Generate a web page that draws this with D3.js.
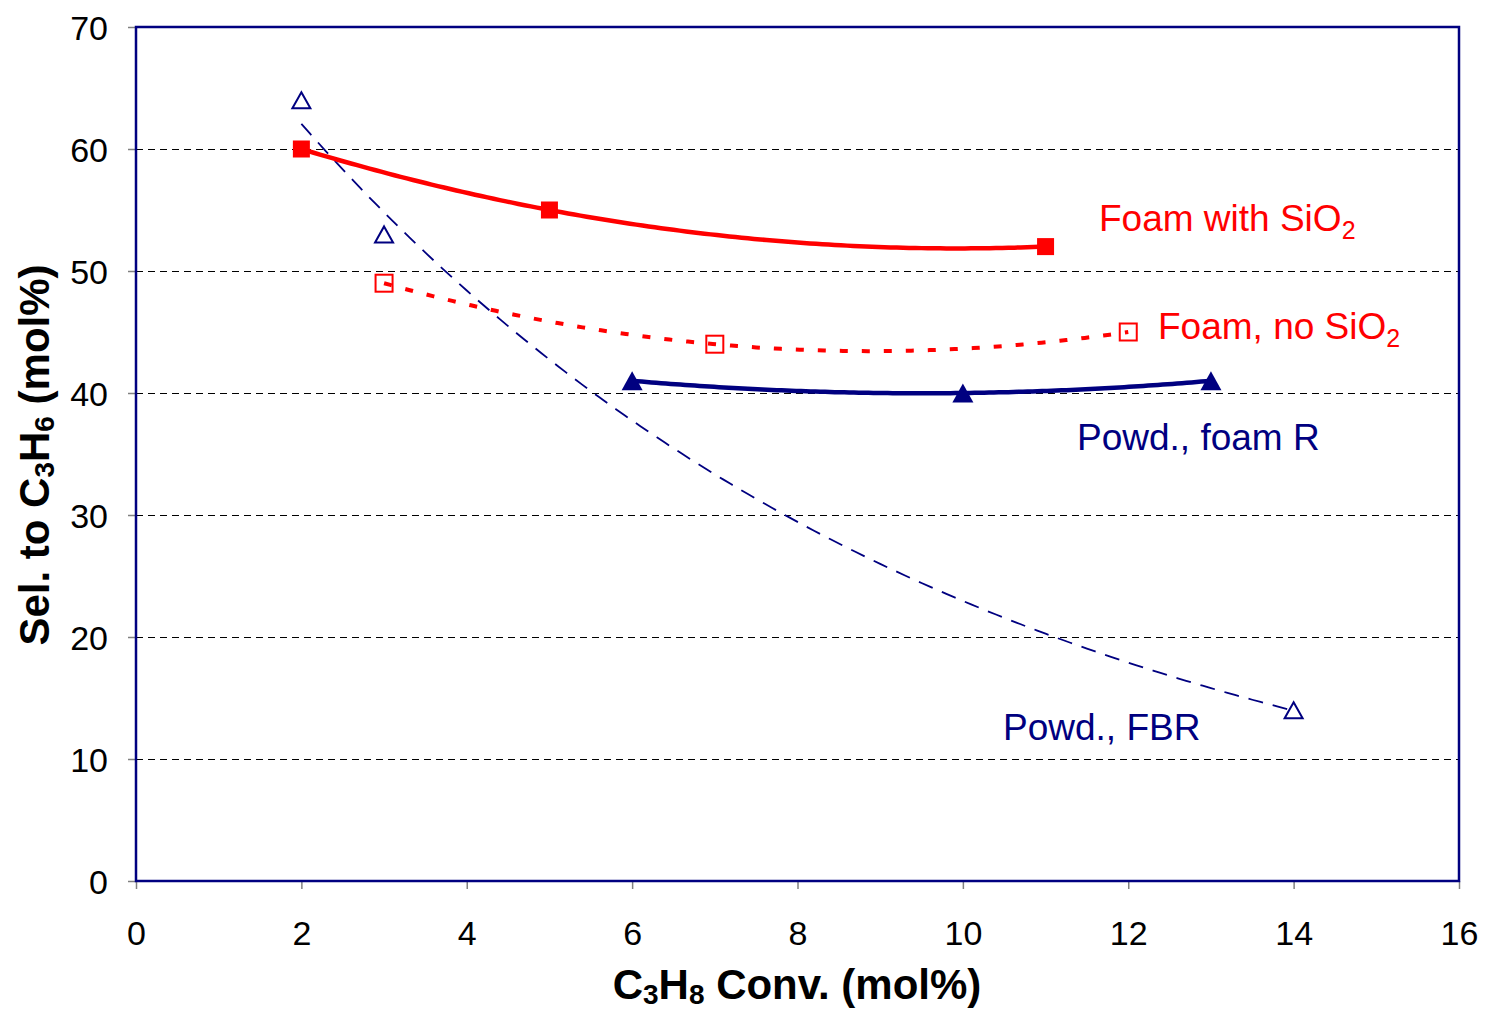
<!DOCTYPE html>
<html>
<head>
<meta charset="utf-8">
<script src="https://cdn.jsdelivr.net/npm/d3@7"></script>
<style>
  html, body { margin: 0; padding: 0; background: #fff; }
  svg { display: block; font-family: "Liberation Sans", Arial, sans-serif; }
</style>
</head>
<body>
<svg id="chart" width="1485" height="1010"></svg>
<script>
// Measured points: conversion (x, mol%) vs selectivity (y, mol%)
const foamSiO2X = [2, 5, 11];
const foamSiO2Y = [60, 55, 52];
const foamNoSiO2X = [3, 7, 12];
const foamNoSiO2Y = [49, 44, 45];
const powdFoamRX = [6, 10, 13];
const powdFoamRY = [41, 40, 41];
const powdFbrX = [2, 3, 14];
const powdFbrY = [64, 53, 14];

const xTicks = [0, 2, 4, 6, 8, 10, 12, 14, 16];
const yTicks = [0, 10, 20, 30, 40, 50, 60, 70];
const gridValues = [10, 20, 30, 40, 50, 60];

const red = "#ff0000";
const navy = "#000080";

const svg = d3.select("#chart");
const plotLeft = 136, plotRight = 1459, plotTop = 27, plotBottom = 881;

const x = d3.scaleLinear().domain([0, 16]).range([plotLeft, plotRight]);
const y = d3.scaleLinear().domain([0, 70]).range([plotBottom, plotTop]);

// gridlines
svg.append("g").selectAll("line").data(gridValues).join("line")
  .attr("x1", plotLeft).attr("x2", plotRight)
  .attr("y1", d => Math.round(y(d)) + 0.5).attr("y2", d => Math.round(y(d)) + 0.5)
  .attr("stroke", "#000").attr("stroke-width", 1)
  .attr("stroke-dasharray", "7,5");

// axes (ticks outward, grey)
const xAxis = svg.append("g").attr("transform", `translate(0,${plotBottom})`)
  .call(d3.axisBottom(x).tickValues(xTicks).tickSize(8).tickPadding(32).tickFormat(d3.format("d")));
const yAxis = svg.append("g").attr("transform", `translate(${plotLeft},0)`)
  .call(d3.axisLeft(y).tickValues(yTicks).tickSize(8).tickPadding(20).tickFormat(d3.format("d")));
[xAxis, yAxis].forEach(g => {
  g.select(".domain").remove();
  g.selectAll(".tick line").attr("stroke", "#808080").attr("stroke-width", 1.5);
  g.selectAll(".tick text").attr("font-size", 34).attr("fill", "#000")
    .attr("font-family", "'Liberation Sans', Arial, sans-serif");
});
xAxis.selectAll(".tick text").attr("dy", "0.72em");
yAxis.selectAll(".tick text").attr("dy", "0.36em");

// plot frame
svg.append("rect").attr("x", plotLeft).attr("y", plotTop)
  .attr("width", plotRight - plotLeft).attr("height", plotBottom - plotTop)
  .attr("fill", "none").attr("stroke", navy).attr("stroke-width", 2.5);

// --- trendline fits ---
function quadFit(xs, ys) {
  // least squares y = a + b x + c x^2
  let s = [0, 0, 0, 0, 0], t = [0, 0, 0];
  xs.forEach((xi, i) => {
    const p = [1, xi, xi * xi, xi ** 3, xi ** 4];
    for (let k = 0; k < 5; k++) s[k] += p[k];
    t[0] += ys[i]; t[1] += ys[i] * xi; t[2] += ys[i] * xi * xi;
  });
  const M = [[s[0], s[1], s[2], t[0]], [s[1], s[2], s[3], t[1]], [s[2], s[3], s[4], t[2]]];
  for (let i = 0; i < 3; i++) {
    let piv = i;
    for (let r = i + 1; r < 3; r++) if (Math.abs(M[r][i]) > Math.abs(M[piv][i])) piv = r;
    [M[i], M[piv]] = [M[piv], M[i]];
    for (let r = 0; r < 3; r++) {
      if (r === i) continue;
      const f = M[r][i] / M[i][i];
      for (let c = i; c < 4; c++) M[r][c] -= f * M[i][c];
    }
  }
  const a = M[0][3] / M[0][0], b = M[1][3] / M[1][1], c = M[2][3] / M[2][2];
  return v => a + b * v + c * v * v;
}
function expFit(xs, ys) {
  const ly = ys.map(Math.log);
  const mx = d3.mean(xs), my = d3.mean(ly);
  let sxy = 0, sxx = 0;
  xs.forEach((xi, i) => { sxy += (xi - mx) * (ly[i] - my); sxx += (xi - mx) ** 2; });
  const b = sxy / sxx, a = Math.exp(my - b * mx);
  return v => a * Math.exp(b * v);
}
function trendPath(fn, x0, x1) {
  const n = 120;
  const pts = d3.range(n + 1).map(i => { const v = x0 + (x1 - x0) * i / n; return [v, fn(v)]; });
  return d3.line().x(d => x(d[0])).y(d => y(d[1]))(pts);
}

const lines = svg.append("g");
lines.append("path").attr("d", trendPath(expFit(powdFbrX, powdFbrY), 2, 14))
  .attr("fill", "none").attr("stroke", navy).attr("stroke-width", 1.8).attr("stroke-dasharray", "15,10");
lines.append("path").attr("d", trendPath(quadFit(foamNoSiO2X, foamNoSiO2Y), 3, 12))
  .attr("fill", "none").attr("stroke", red).attr("stroke-width", 4).attr("stroke-dasharray", "8,14");
lines.append("path").attr("d", trendPath(quadFit(powdFoamRX, powdFoamRY), 6, 13))
  .attr("fill", "none").attr("stroke", navy).attr("stroke-width", 4.5);
lines.append("path").attr("d", trendPath(quadFit(foamSiO2X, foamSiO2Y), 2, 11))
  .attr("fill", "none").attr("stroke", red).attr("stroke-width", 4.5);

// --- markers ---
const sq = 17;
svg.append("g").selectAll("rect").data(d3.zip(foamSiO2X, foamSiO2Y)).join("rect")
  .attr("x", d => x(d[0]) - sq / 2).attr("y", d => y(d[1]) - sq / 2)
  .attr("width", sq).attr("height", sq).attr("fill", red);

svg.append("g").selectAll("rect").data(d3.zip(foamNoSiO2X, foamNoSiO2Y)).join("rect")
  .attr("x", d => x(d[0]) - 8.5).attr("y", d => y(d[1]) - 8.5)
  .attr("width", 17).attr("height", 17).attr("fill", "none")
  .attr("stroke", red).attr("stroke-width", 2);

// triangle centred on its bounding box
const triangle = (w, h) => `M0,${-h / 2}L${w / 2},${h / 2}L${-w / 2},${h / 2}Z`;

svg.append("g").selectAll("path").data(d3.zip(powdFoamRX, powdFoamRY)).join("path")
  .attr("d", triangle(21, 19)).attr("transform", d => `translate(${x(d[0])},${y(d[1])})`)
  .attr("fill", navy);

svg.append("g").selectAll("path").data(d3.zip(powdFbrX, powdFbrY)).join("path")
  .attr("d", triangle(18, 16))
  .attr("transform", d => `translate(${x(d[0])},${y(d[1])})`)
  .attr("fill", "#fff").attr("stroke", navy).attr("stroke-width", 2);

// --- series labels ---
function label(xp, yp, color, main, sub) {
  const t = svg.append("text").attr("x", xp).attr("y", yp)
    .attr("fill", color).attr("font-size", 37);
  t.append("tspan").text(main);
  if (sub) t.append("tspan").attr("font-size", 25).attr("dy", 8).text(sub);
}
label(1099, 231, red, "Foam with SiO", "2");
label(1158, 339, red, "Foam, no SiO", "2");
label(1077, 450, navy, "Powd., foam R");
label(1003, 740, navy, "Powd., FBR");

// --- axis titles ---
const xt = svg.append("text").attr("x", 797).attr("y", 999).attr("text-anchor", "middle")
  .attr("font-size", 42).attr("font-weight", "bold").attr("fill", "#000");
xt.append("tspan").text("C");
xt.append("tspan").attr("font-size", 28).attr("dy", 5).text("3");
xt.append("tspan").attr("dy", -5).text("H");
xt.append("tspan").attr("font-size", 28).attr("dy", 5).text("8");
xt.append("tspan").attr("dy", -5).text(" Conv. (mol%)");

const yt = svg.append("text").attr("transform", "translate(49,455) rotate(-90)")
  .attr("text-anchor", "middle")
  .attr("font-size", 42).attr("font-weight", "bold").attr("fill", "#000");
yt.append("tspan").text("Sel. to C");
yt.append("tspan").attr("font-size", 28).attr("dy", 5).text("3");
yt.append("tspan").attr("dy", -5).text("H");
yt.append("tspan").attr("font-size", 28).attr("dy", 5).text("6");
yt.append("tspan").attr("dy", -5).text(" (mol%)");
</script>
</body>
</html>
